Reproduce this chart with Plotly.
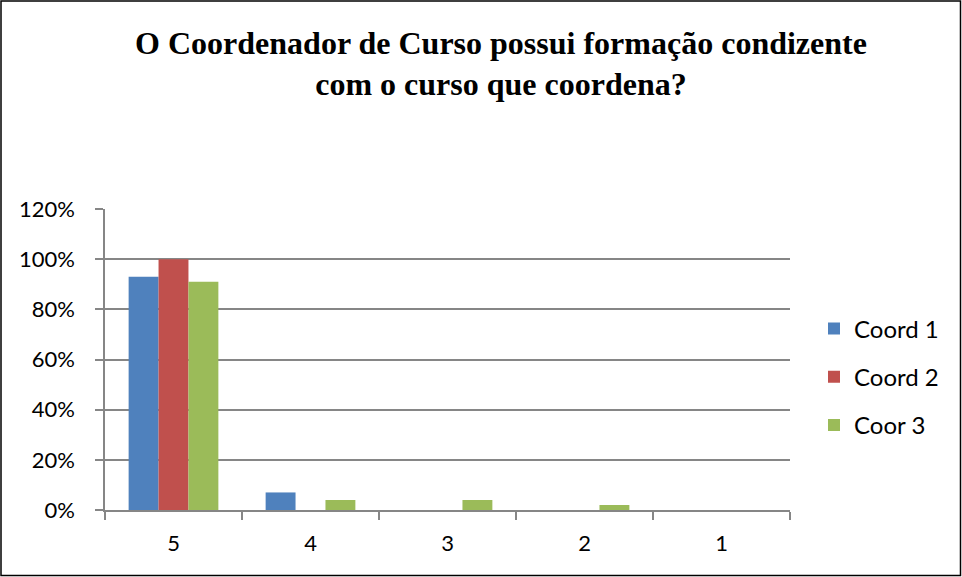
import plotly.graph_objects as go

categories = ["5", "4", "3", "2", "1"]
coord1 = [0.93, 0.07, 0.0, 0.0, 0.0]
coord2 = [1.00, 0.0, 0.0, 0.0, 0.0]
coor3 = [0.91, 0.04, 0.04, 0.02, 0.0]
series_names = ["Coord 1", "Coord 2", "Coor 3"]
colors = ["#4F81BD", "#C0504D", "#9BBB59"]
title_lines = ["O Coordenador de Curso possui formação condizente", "com o curso que coordena?"]

fig = go.Figure()
for name, vals, col, g in zip(series_names, [coord1, coord2, coor3], colors, ["a", "b", "c"]):
    fig.add_trace(go.Bar(x=categories, y=vals, name=name, marker_color=col,
                         marker_line_width=0, legendgroup=g))

L, R, T, B = 105, 172, 209, 67
W, H = 962, 577
pw, ph = W - L - R, H - T - B

fig.update_layout(
    width=W, height=H,
    margin=dict(l=L, r=R, t=T, b=B, pad=0),
    paper_bgcolor="white", plot_bgcolor="white",
    barmode="group", bargap=0.345, bargroupgap=0,
    font=dict(family="Lato, sans-serif", size=22, color="black"),
    title=dict(text="<b>" + "<br>".join(title_lines) + "</b>",
               font=dict(family="Times New Roman, Liberation Serif, serif", size=32, color="black"),
               x=501 / W, xanchor="center", y=1 - 53.5 / H, yanchor="middle"),
    legend=dict(x=(814 - L) / pw, xanchor="left", y=(H - B - 377) / ph, yanchor="middle",
                font=dict(family="Lato, sans-serif", size=24), tracegroupgap=14,
                itemwidth=30, bgcolor="rgba(0,0,0,0)"),
    showlegend=True,
)
fig.update_xaxes(type="category", showline=True, linecolor="#868686", linewidth=1.5,
                 ticks="outside", tickson="boundaries", ticklen=8, tickcolor="#868686",
                 tickwidth=1.5, showgrid=False, tickfont=dict(size=22), ticklabelstandoff=13)
fig.update_yaxes(range=[0, 1.2], dtick=0.2, tickformat=".0%", showline=True,
                 linecolor="#868686", linewidth=1.5, ticks="outside", ticklen=8,
                 tickcolor="#868686", tickwidth=1.5, gridcolor="#868686", gridwidth=1.5,
                 zeroline=False, tickfont=dict(size=22), ticklabelstandoff=16)

fig.add_shape(type="rect", xref="paper", yref="paper",
              x0=(1 - L) / pw, x1=(W - 1.5 - L) / pw,
              y0=-(B - 1.5) / ph, y1=1 + (T - 1) / ph,
              line=dict(color="black", width=1.5), fillcolor="rgba(0,0,0,0)", layer="below")

fig.write_html("out.html", config={"displayModeBar": False},
               post_script="document.body.style.margin='0px';")
